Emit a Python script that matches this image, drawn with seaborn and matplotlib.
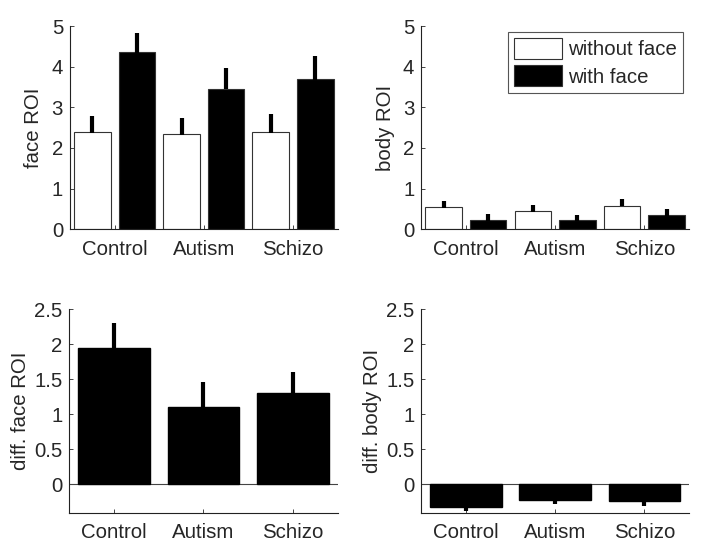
import numpy as np
import pandas as pd
import matplotlib
matplotlib.use('Agg')
import matplotlib.pyplot as plt
import seaborn as sns

groups = ['Control', 'Autism', 'Schizo']
conditions = ['without face', 'with face']

# face ROI
face_without = [2.39, 2.34, 2.39]
face_without_err = [0.40, 0.40, 0.44]
face_with = [4.35, 3.46, 3.69]
face_with_err = [0.49, 0.52, 0.57]

# body ROI
body_without = [0.54, 0.44, 0.57]
body_without_err = [0.16, 0.16, 0.18]
body_with = [0.22, 0.22, 0.34]
body_with_err = [0.15, 0.12, 0.16]

# differences (with - without)
diff_face = [1.94, 1.10, 1.30]
diff_face_err = [0.36, 0.36, 0.30]
diff_body = [-0.33, -0.23, -0.24]
diff_body_err = [0.06, 0.06, 0.07]

sns.set_style('white')
plt.rcParams['font.family'] = ['Liberation Sans', 'DejaVu Sans']
plt.rcParams['font.size'] = 14.7

fig = plt.figure(figsize=(7.14, 5.55), dpi=100)
ax_fr = fig.add_axes([0.098, 0.587, 0.375, 0.366])
ax_br = fig.add_axes([0.590, 0.587, 0.375, 0.366])
ax_fd = fig.add_axes([0.097, 0.076, 0.376, 0.367])
ax_bd = fig.add_axes([0.590, 0.076, 0.375, 0.367])


def style_axis(ax, ylabel, ylim, yticks, labelpad=6, xpad=7):
    ax.set_ylim(*ylim)
    ax.set_yticks(yticks)
    ax.set_yticklabels([f'{t:g}' for t in yticks])
    ax.set_xlim(-0.5, 2.5)
    ax.set_xlabel('')
    ax.set_ylabel(ylabel, labelpad=labelpad)
    sns.despine(ax=ax)
    for s in ['left', 'bottom']:
        ax.spines[s].set_color('#222222')
        ax.spines[s].set_linewidth(0.8)
    ax.tick_params(direction='in', length=3, width=0.7, color='#444444',
                   labelsize=14.7, pad=5, left=True, bottom=True)
    ax.tick_params(axis='x', pad=xpad)


def add_err(ax, container, vals, errs):
    xs = [p.get_x() + p.get_width() / 2 for p in container.patches]
    for x, v, e in zip(xs, vals, errs):
        top = v + e if v >= 0 else v - e
        ax.plot([x, x], [v - np.sign(v) * 0.01, top], color='black', lw=3.0,
                solid_capstyle='butt', zorder=3)


def grouped(ax, without, with_, without_err, with_err):
    df = pd.DataFrame({
        'group': groups * 2,
        'condition': [conditions[0]] * 3 + [conditions[1]] * 3,
        'value': without + with_,
    })
    sns.barplot(data=df, x='group', y='value', hue='condition', ax=ax,
                palette=['white', 'black'], edgecolor='#333333', linewidth=0.8,
                width=1.0, gap=0.18, errorbar=None, legend=False, zorder=2)
    add_err(ax, ax.containers[0], without, without_err)
    add_err(ax, ax.containers[1], with_, with_err)


grouped(ax_fr, face_without, face_with, face_without_err, face_with_err)
style_axis(ax_fr, 'face ROI', (0, 5), [0, 1, 2, 3, 4, 5], xpad=8)

grouped(ax_br, body_without, body_with, body_without_err, body_with_err)
style_axis(ax_br, 'body ROI', (0, 5), [0, 1, 2, 3, 4, 5], xpad=8)
handles = [ax_br.containers[0].patches[0], ax_br.containers[1].patches[0]]
leg = ax_br.legend(handles, conditions, loc='upper right',
                   bbox_to_anchor=(0.978, 0.970), fancybox=False,
                   edgecolor='#555555', framealpha=1, fontsize=14.7,
                   handlelength=2.35, handleheight=1.15, handletextpad=0.3,
                   borderpad=0.3, labelspacing=0.3, borderaxespad=0)
leg.get_frame().set_linewidth(0.8)

for ax, vals, errs, lab in [(ax_fd, diff_face, diff_face_err, 'diff. face ROI'),
                            (ax_bd, diff_body, diff_body_err, 'diff. body ROI')]:
    sns.barplot(x=groups, y=vals, ax=ax, color='black', edgecolor='black',
                width=0.8, errorbar=None, zorder=2)
    add_err(ax, ax.containers[0], vals, errs)
    ax.axhline(0, color='#444444', lw=0.8, zorder=1)
    style_axis(ax, lab, (-0.41, 2.5), [0, 0.5, 1, 1.5, 2, 2.5],
               labelpad=3, xpad=7)

fig.savefig('out.png', dpi=100)
